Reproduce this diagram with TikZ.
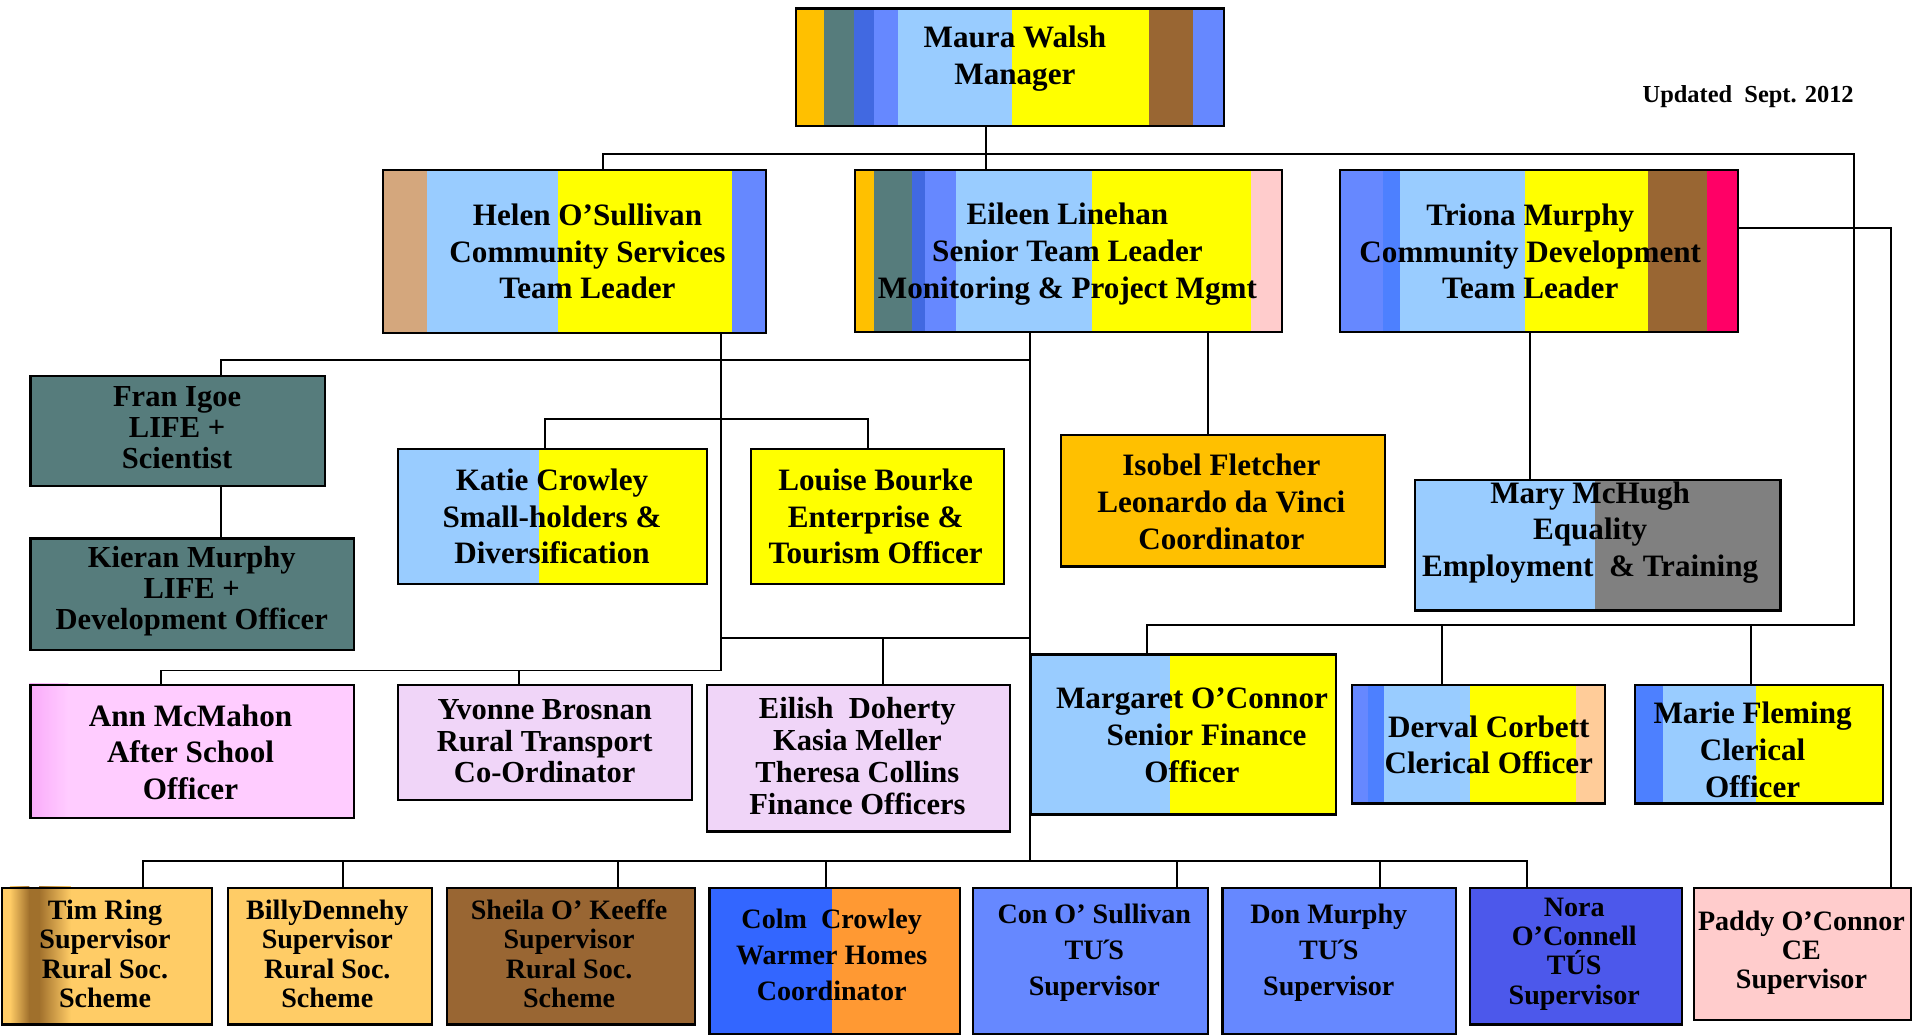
\documentclass[tikz,border=0pt]{standalone}
\usepackage{fontspec}
\setmainfont{Liberation Serif}
\definecolor{cOrange}{RGB}{255,192,0}
\definecolor{cTeal}{RGB}{86,124,124}
\definecolor{cRoyal}{RGB}{65,105,225}
\definecolor{cMed}{RGB}{102,136,255}
\definecolor{cBright}{RGB}{77,128,255}
\definecolor{cLight}{RGB}{153,204,255}
\definecolor{cYellow}{RGB}{255,255,0}
\definecolor{cBrown}{RGB}{153,102,51}
\definecolor{cTan}{RGB}{212,167,125}
\definecolor{cPink}{RGB}{255,204,204}
\definecolor{cCrimson}{RGB}{255,0,102}
\definecolor{cGrey}{RGB}{128,128,128}
\definecolor{cLav}{RGB}{240,213,248}
\definecolor{cAnn}{RGB}{255,204,255}
\definecolor{cAnnDark}{RGB}{250,170,250}
\definecolor{cSand}{RGB}{255,204,102}
\definecolor{cSandDark}{RGB}{160,112,44}
\definecolor{cColmBlue}{RGB}{51,102,255}
\definecolor{cColmOr}{RGB}{255,153,51}
\definecolor{cNora}{RGB}{76,88,235}
\definecolor{cPeach}{RGB}{255,204,153}
\tikzset{
  obox/.style={draw=black, line width=1.8pt, inner sep=0pt, anchor=north west},
  conn/.style={line width=1.6pt, black},
  tA/.style={align=center, inner sep=0pt, font=\bfseries\fontsize{25.5}{30}\selectfont},
  tB/.style={align=center, inner sep=0pt, font=\bfseries\fontsize{25}{25.5}\selectfont},
  tE/.style={align=center, inner sep=0pt, font=\bfseries\fontsize{25}{26}\selectfont},
  tC/.style={align=center, inner sep=0pt, font=\bfseries\fontsize{23}{24}\selectfont},
  tD/.style={align=center, inner sep=0pt, font=\bfseries\fontsize{23}{29.5}\selectfont},
}
\begin{document}
\begin{tikzpicture}[x=1pt,y=-1pt]
\useasboundingbox (0,0) rectangle (1568,848);
\fill[white] (0,0) rectangle (1568,848);

% ---------- stripes / fills ----------
% Maura
\fill[cOrange] (651,6) rectangle (675,102);
\fill[cTeal] (675,6) rectangle (699,102);
\fill[cRoyal] (699,6) rectangle (716,102);
\fill[cMed] (716,6) rectangle (735,102);
\fill[cLight] (735,6) rectangle (829,102);
\fill[cYellow] (829,6) rectangle (941,102);
\fill[cBrown] (941,6) rectangle (977,103);
\fill[cMed] (977,6) rectangle (1001,102);
% Helen
\fill[cTan] (313,138) rectangle (350,272);
\fill[cLight] (350,138) rectangle (457,272);
\fill[cYellow] (457,138) rectangle (599,272);
\fill[cMed] (599,138) rectangle (626,272);
% Eileen
\fill[cOrange] (699,138) rectangle (716,271);
\fill[cTeal] (716,138) rectangle (747,271);
\fill[cRoyal] (747,138) rectangle (757,271);
\fill[cMed] (757,138) rectangle (783,271);
\fill[cLight] (783,138) rectangle (894,271);
\fill[cYellow] (894,138) rectangle (1024,271);
\fill[cPink] (1024,138) rectangle (1049,271);
% Triona
\fill[cMed] (1096,138) rectangle (1132,271);
\fill[cBright] (1132,138) rectangle (1146,271);
\fill[cLight] (1146,138) rectangle (1249,271);
\fill[cYellow] (1249,138) rectangle (1349,271);
\fill[cBrown] (1349,138) rectangle (1398,271);
\fill[cCrimson] (1398,138) rectangle (1422,271);
% Fran, Kieran
\fill[cTeal] (24,307) rectangle (265,397);
\fill[cTeal] (24,440) rectangle (289,531);
% Katie, Louise
\fill[cLight] (325,367) rectangle (441,477);
\fill[cYellow] (441,367) rectangle (578,477);
\fill[cYellow] (614,367) rectangle (821,477);
% Isobel
\fill[cOrange] (868,355) rectangle (1133,463);
% Mary
\fill[cLight] (1158,392) rectangle (1306,499);
\fill[cGrey] (1306,392) rectangle (1457,499);
% Ann
\fill[cAnn] (24,560) rectangle (289,669);
\shade[left color=cAnnDark, right color=cAnn] (24,560) rectangle (56,669);
% Yvonne, Eilish
\fill[cLav] (325,560) rectangle (566,654);
\fill[cLav] (578,560) rectangle (826,680);
% Margaret
\fill[cLight] (843,535) rectangle (958,666);
\fill[cYellow] (958,535) rectangle (1093,666);
% Derval
\fill[cMed] (1106,560) rectangle (1120,657);
\fill[cBright] (1120,560) rectangle (1133,657);
\fill[cLight] (1133,560) rectangle (1204,657);
\fill[cYellow] (1204,560) rectangle (1290,657);
\fill[cPeach] (1290,560) rectangle (1313,657);
% Marie
\fill[cBright] (1338,560) rectangle (1362,657);
\fill[cLight] (1362,560) rectangle (1438,657);
\fill[cYellow] (1438,560) rectangle (1541,657);
% bottom row
\fill[cSand] (1,726) rectangle (173,838);
\shade[left color=cSand, right color=cSandDark] (8,726) rectangle (24,838);
\fill[cSandDark] (24,726) rectangle (32,838);
\shade[left color=cSandDark, right color=cSand] (32,726) rectangle (58,838);
\fill[cSand] (186,726) rectangle (353,838);
\fill[cBrown] (365,726) rectangle (568,838);
\fill[cColmBlue] (580,726) rectangle (681,846);
\fill[cColmOr] (681,726) rectangle (785,846);
\fill[cMed] (796,726) rectangle (988,846);
\fill[cMed] (1000,726) rectangle (1191,846);
\fill[cNora] (1203,726) rectangle (1376,838);
\fill[cPink] (1386,726) rectangle (1564,834);

% ---------- boxes ----------
\node[obox, minimum width=350pt, minimum height=96pt] (maura) at (651,6) {};
\node[obox, minimum width=313pt, minimum height=134pt] (helen) at (313,138) {};
\node[obox, minimum width=350pt, minimum height=133pt] (eileen) at (699,138) {};
\node[obox, minimum width=326pt, minimum height=133pt] (triona) at (1096,138) {};
\node[obox, minimum width=241pt, minimum height=90pt] (fran) at (24,307) {};
\node[obox, minimum width=265pt, minimum height=91pt] (kieran) at (24,440) {};
\node[obox, minimum width=253pt, minimum height=110pt] (katie) at (325,367) {};
\node[obox, minimum width=207pt, minimum height=110pt] (louise) at (614,367) {};
\node[obox, minimum width=265pt, minimum height=108pt] (isobel) at (868,355) {};
\node[obox, minimum width=299pt, minimum height=107pt] (mary) at (1158,392) {};
\node[obox, minimum width=265pt, minimum height=109pt] (ann) at (24,560) {};
\node[obox, minimum width=241pt, minimum height=94pt] (yvonne) at (325,560) {};
\node[obox, minimum width=248pt, minimum height=120pt] (eilish) at (578,560) {};
\node[obox, minimum width=250pt, minimum height=131pt] (margaret) at (843,535) {};
\node[obox, minimum width=207pt, minimum height=97pt] (derval) at (1106,560) {};
\node[obox, minimum width=203pt, minimum height=97pt] (marie) at (1338,560) {};
\node[obox, minimum width=172pt, minimum height=112pt] (tim) at (1,726) {};
\node[obox, minimum width=167pt, minimum height=112pt] (billy) at (186,726) {};
\node[obox, minimum width=203pt, minimum height=112pt] (sheila) at (365,726) {};
\node[obox, minimum width=205pt, minimum height=120pt] (colm) at (580,726) {};
\node[obox, minimum width=192pt, minimum height=120pt] (con) at (796,726) {};
\node[obox, minimum width=191pt, minimum height=120pt] (don) at (1000,726) {};
\node[obox, minimum width=173pt, minimum height=112pt] (nora) at (1203,726) {};
\node[obox, minimum width=178pt, minimum height=108pt] (paddy) at (1386,726) {};

% ---------- junction coordinates ----------
\coordinate (jtop) at (807,126);
\coordinate (jhelen) at (494,126);
\coordinate (jright) at (1518,126);
\coordinate (jright2) at (1518,512);
\coordinate (jmarg) at (939,512);
\coordinate (jderv) at (1181,512);
\coordinate (jmarie) at (1434,512);
\coordinate (jtri) at (1548,187);
\coordinate (jeil) at (843,295);
\coordinate (jeilb) at (843,705);
\coordinate (jfran) at (181,295);
\coordinate (jhel2) at (590,295);
\coordinate (jhelb) at (590,549);
\coordinate (jk) at (446,343);
\coordinate (jl) at (711,343);
\coordinate (j522a) at (590,522);
\coordinate (j522b) at (843,522);
\coordinate (jeli) at (723,522);
\coordinate (jann) at (132,549);
\coordinate (jyv) at (425,549);
\coordinate (jiso) at (989,300);
\coordinate (jmary) at (1253,300);
\coordinate (jtim) at (117,705);
\coordinate (jbil) at (281,705);
\coordinate (jshe) at (506,705);
\coordinate (jcol) at (676,705);
\coordinate (jcon) at (964,705);
\coordinate (jdon) at (1130,705);
\coordinate (jnor) at (1250,705);

% ---------- connectors ----------
\draw[conn] (maura.south -| jtop) -- (eileen.north -| jtop);
\draw[conn] (helen.north -| jhelen) -- (jhelen) -- (jright) -- (jright2) -- (jmarg) -- (margaret.north -| jmarg);
\draw[conn] (jderv) -- (derval.north -| jderv);
\draw[conn] (jmarie) -- (marie.north -| jmarie);
\draw[conn] (triona.east |- jtri) -- (jtri) -- (paddy.north -| jtri);
\draw[conn] (eileen.south -| jeil) -- (jeilb);
\draw[conn] (fran.north -| jfran) -- (jfran) -- (jeil);
\draw[conn] (fran.south -| jfran) -- (kieran.north -| jfran);
\draw[conn] (helen.south -| jhel2) -- (jhelb) -- (jann) -- (ann.north -| jann);
\draw[conn] (jyv) -- (yvonne.north -| jyv);
\draw[conn] (katie.north -| jk) -- (jk) -- (jl) -- (louise.north -| jl);
\draw[conn] (j522a) -- (j522b);
\draw[conn] (jeli) -- (eilish.north -| jeli);
\draw[conn] (eileen.south -| jiso) -- (isobel.north -| jiso);
\draw[conn] (triona.south -| jmary) -- (mary.north -| jmary);
\draw[conn] (tim.north -| jtim) -- (jtim) -- (jnor) -- (nora.north -| jnor);
\draw[conn] (jbil) -- (billy.north -| jbil);
\draw[conn] (jshe) -- (sheila.north -| jshe);
\draw[conn] (jcol) -- (colm.north -| jcol);
\draw[conn] (jcon) -- (con.north -| jcon);
\draw[conn] (jdon) -- (don.north -| jdon);

% ---------- texts ----------
\node[tA] (maura-t) at (831,48) {Maura Walsh\\Manager};
\node[anchor=east, inner sep=0pt, font=\bfseries\fontsize{20}{24}\selectfont] (upd) at (1518,79) {Updated\ \ Sept. 2012};
\node[tA] (helen-t) at (481,206) {Helen O’Sullivan\\Community Services\\Team Leader};
\node[tA] (eileen-t) at (874,208) {Eileen Linehan\\Senior Team Leader\\Monitoring \& Project Mgmt};
\node[tA] (triona-t) at (1253,206) {Triona Murphy\\Community Development\\Team Leader};
\node[tB] (fran-t) at (145,350) {Fran Igoe\\LIFE +\\Scientist};
\node[tB] (kieran-t) at (157,484) {Kieran Murphy\\LIFE +\\Development Officer};
\node[tA] (katie-t) at (452,423) {Katie Crowley\\Small-holders \&\\Diversification};
\node[tA] (louise-t) at (717,423) {Louise Bourke\\Enterprise \&\\Tourism Officer};
\node[tA] (isobel-t) at (1000,411) {Isobel Fletcher\\Leonardo da Vinci\\Coordinator};
\node[tA] (mary-t) at (1302,436) {Mary McHugh\\Equality\\Employment\ \ \& Training};
\node[tA] (ann-t) at (156,616) {Ann McMahon\\After School\\Officer};
\node[tE] (yvonne-t) at (446,607) {Yvonne Brosnan\\Rural Transport\\Co-Ordinator};
\node[tE] (eilish-t) at (702,619) {Eilish\ \ Doherty\\Kasia Meller\\Theresa Collins\\Finance Officers};
\node[tA] (margaret-t) at (976,602) {Margaret O’Connor\\\hspace*{24pt}Senior Finance\\Officer};
\node[tA] (derval-t) at (1219,610) {Derval Corbett\\Clerical Officer};
\node[tA] (marie-t) at (1435,614) {Marie Fleming\\Clerical\\Officer};
\node[tC] (tim-t) at (86,781) {Tim Ring\\Supervisor\\Rural Soc.\\Scheme};
\node[tC] (billy-t) at (268,781) {BillyDennehy\\Supervisor\\Rural Soc.\\Scheme};
\node[tC] (sheila-t) at (466,781) {Sheila O’ Keeffe\\Supervisor\\Rural Soc.\\Scheme};
\node[tD] (colm-t) at (681,782) {Colm\ \ Crowley\\Warmer Homes\\Coordinator};
\node[tD] (con-t) at (896,780) {Con O’ Sullivan\\TU\kern-0.08em´\kern-0.08em S\\Supervisor};
\node[tD] (don-t) at (1088,780) {Don Murphy\\TU\kern-0.08em´\kern-0.08em S\\Supervisor};
\node[tC] (nora-t) at (1289,781) {Nora\\O’Connell\\TÚS\\Supervisor};
\node[tC] (paddy-t) at (1475,780) {Paddy O’Connor\\CE\\Supervisor};
\end{tikzpicture}
\end{document}
